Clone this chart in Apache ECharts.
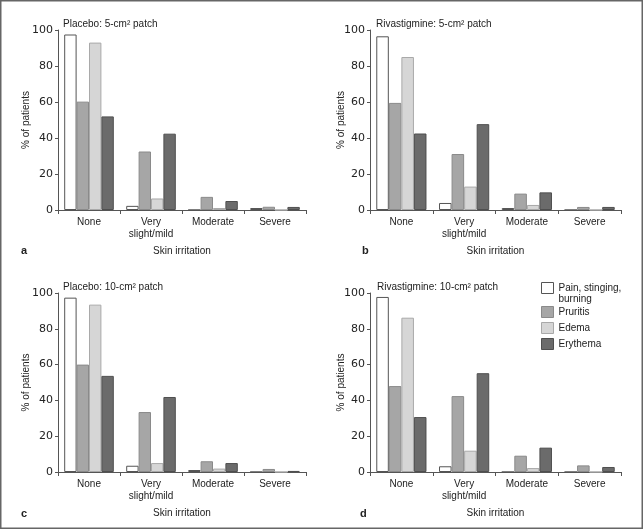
<!DOCTYPE html>
<html>
<head>
<meta charset="utf-8">
<script src="https://cdn.jsdelivr.net/npm/echarts@6/dist/echarts.min.js"></script>
<style>
html,body{margin:0;padding:0;background:#fff;}
#chart{width:643px;height:529px;}
</style>
</head>
<body>
<div id="chart"></div>
<script>
// ---- data ----
var categories = ['None', 'Very\nslight/mild', 'Moderate', 'Severe'];
var seriesNames = ['Pain, stinging, burning', 'Pruritis', 'Edema', 'Erythema'];
var yTicks = [0, 20, 40, 60, 80, 100];
var panelTitles = ['Placebo: 5-cm\u00B2 patch', 'Rivastigmine: 5-cm\u00B2 patch', 'Placebo: 10-cm\u00B2 patch', 'Rivastigmine: 10-cm\u00B2 patch'];
var panelLetters = ['a', 'b', 'c', 'd'];

// Panel a: Placebo 5-cm2
var placebo5_pain     = [97.5, 2.3, 0, 1.1];
var placebo5_pruritis = [60.2, 32.5, 7.3, 1.8];
var placebo5_edema    = [93, 6.4, 1.1, 0];
var placebo5_erythema = [52, 42.4, 5, 1.7];
// Panel b: Rivastigmine 5-cm2
var riva5_pain     = [96.5, 3.9, 1.1, 0];
var riva5_pruritis = [59.5, 31.1, 9.1, 1.7];
var riva5_edema    = [85, 13, 2.8, 0];
var riva5_erythema = [42.5, 47.7, 9.8, 1.7];
// Panel c: Placebo 10-cm2
var placebo10_pain     = [97.4, 3.5, 1.1, 0];
var placebo10_pruritis = [60, 33.5, 6, 1.7];
var placebo10_edema    = [93.5, 5, 1.9, 0];
var placebo10_erythema = [53.7, 41.9, 5, 0.6];
// Panel d: Rivastigmine 10-cm2
var riva10_pain     = [97.8, 3.2, 0, 0];
var riva10_pruritis = [48, 42.4, 9.1, 3.7];
var riva10_edema    = [86.2, 11.9, 2.2, 0];
var riva10_erythema = [30.7, 55.2, 13.6, 2.8];

var panelData = [
  [placebo5_pain, placebo5_pruritis, placebo5_edema, placebo5_erythema],
  [riva5_pain, riva5_pruritis, riva5_edema, riva5_erythema],
  [placebo10_pain, placebo10_pruritis, placebo10_edema, placebo10_erythema],
  [riva10_pain, riva10_pruritis, riva10_edema, riva10_erythema]
];

// ---- styles ----
var fills   = ['#ffffff', '#a6a6a6', '#d6d6d6', '#6b6b6b'];
var borders = ['#555555', '#8a8a8a', '#a9a9a9', '#4f4f4f'];
var textColor = '#222';
var axisColor = '#555';
var FONT = '"Liberation Sans", Arial, sans-serif';

var grids = [
  {left: 58,  top: 30, width: 248, height: 180},
  {left: 370, top: 30, width: 251, height: 180},
  {left: 58,  top: 293, width: 248, height: 179},
  {left: 370, top: 293, width: 251, height: 179}
];
var yNameGaps = [26.5, 24, 26.5, 24];
var titlePos = [[63, 19], [376, 19], [63, 282], [377, 282]];
var letterPos = [[21, 245], [362, 245], [21, 508], [360, 508]];

var option = {
  backgroundColor: '#fff',
  animation: false,
  textStyle: {fontFamily: FONT},
  grid: grids,
  title: [],
  xAxis: [],
  yAxis: [],
  series: [],
  legend: [
    {
      data: [seriesNames[0]],
      orient: 'vertical', left: 541, top: 271.5, padding: 0,
      icon: 'rect', itemWidth: 12, itemHeight: 11,
      itemStyle: {borderWidth: 1},
      formatter: function () { return ' \nPain, stinging,\nburning'; },
      textStyle: {fontSize: 10, fontFamily: FONT, color: textColor, lineHeight: 11},
      selectedMode: false
    },
    {
      data: seriesNames.slice(1),
      orient: 'vertical', left: 541, top: 306, padding: 0, itemGap: 4,
      icon: 'rect', itemWidth: 12, itemHeight: 11,
      itemStyle: {borderWidth: 1},
      textStyle: {fontSize: 10, fontFamily: FONT, color: textColor, lineHeight: 11},
      selectedMode: false
    }
  ],
  graphic: [{
    type: 'rect', silent: true,
    shape: {x: 0.75, y: 0.75, width: 641.5, height: 527.5},
    style: {fill: 'none', stroke: '#666', lineWidth: 1.5}
  }]
};

for (var p = 0; p < 4; p++) {
  option.title.push({
    text: panelTitles[p], left: titlePos[p][0], top: titlePos[p][1], padding: 0,
    textStyle: {fontSize: 10, fontWeight: 'normal', color: textColor, fontFamily: FONT}
  });
  option.title.push({
    text: panelLetters[p], left: letterPos[p][0], top: letterPos[p][1], padding: 0,
    textStyle: {fontSize: 11, fontWeight: 'bold', color: textColor, fontFamily: FONT}
  });
  option.xAxis.push({
    type: 'category', gridIndex: p, data: categories,
    name: 'Skin irritation', nameLocation: 'middle', nameGap: 36, nameMoveOverlap: false,
    nameTextStyle: {fontSize: 10, color: textColor, fontFamily: FONT},
    axisLine: {lineStyle: {color: axisColor, width: 1}},
    axisTick: {show: true, length: 4, lineStyle: {color: axisColor}},
    axisLabel: {fontSize: 10, color: textColor, lineHeight: 12, margin: 6, fontFamily: FONT, interval: 0},
    splitLine: {show: false}
  });
  option.yAxis.push({
    type: 'value', gridIndex: p, min: yTicks[0], max: yTicks[yTicks.length - 1], interval: 20,
    name: '% of patients', nameLocation: 'middle', nameRotate: 90, nameGap: yNameGaps[p], nameMoveOverlap: false,
    nameTextStyle: {fontSize: 10, color: textColor, fontFamily: FONT},
    axisLine: {show: true, lineStyle: {color: axisColor, width: 1}},
    axisTick: {show: true, length: 3, lineStyle: {color: axisColor}},
    axisLabel: {fontSize: 11, color: textColor, margin: 5, fontFamily: '"DejaVu Sans", sans-serif'},
    splitLine: {show: false}
  });
  for (var s = 0; s < 4; s++) {
    option.series.push({
      type: 'bar', name: seriesNames[s], xAxisIndex: p, yAxisIndex: p,
      data: panelData[p][s],
      barGap: '0%', barCategoryGap: '20%',
      itemStyle: {color: fills[s], borderColor: borders[s], borderWidth: 1},
      emphasis: {disabled: true}
    });
  }
}

var chart = echarts.init(document.getElementById('chart'), null, {renderer: 'canvas'});
chart.setOption(option);
</script>
</body>
</html>
